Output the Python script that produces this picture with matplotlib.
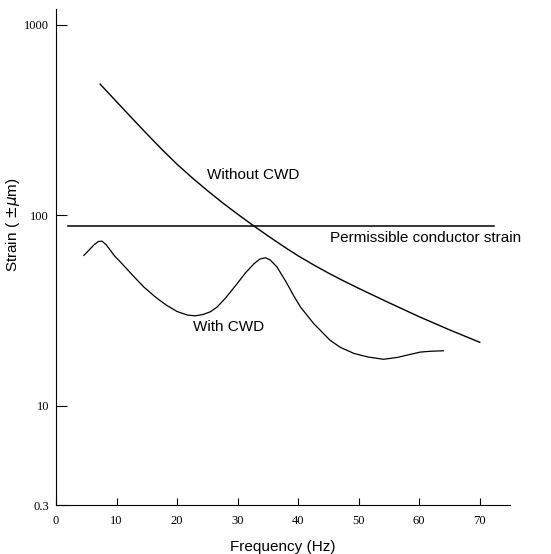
import numpy as np
import matplotlib
matplotlib.use("Agg")
import matplotlib.pyplot as plt
from matplotlib.ticker import FixedLocator, FixedFormatter, NullLocator

# strain without conductor wind damper
freq_without = [7.3, 10, 12.5, 15, 17.5, 20, 22.5, 25, 27.5, 30, 32.5, 35,
                37.5, 40, 42.5, 45, 47.5, 50, 55, 60, 65, 70]
strain_without = [488.7, 395.4, 325.1, 267.9, 221.8, 185.4, 157.4, 134.9, 116.4,
                  101.4, 88.7, 78.0, 68.9, 61.2, 55.0, 49.7, 45.2, 41.3, 34.7,
                  29.3, 25.0, 21.5]

# strain with conductor wind damper
freq_with = [4.6, 5.5, 6.3, 7.0, 7.6, 8.3, 9.0, 9.7, 10.9, 12.5, 14.5, 16.5,
             18.3, 20.0, 21.7, 23.0, 24.3, 25.5, 26.6, 28.0, 29.9, 31.3, 32.7,
             33.7, 34.6, 35.4, 36.5, 38.0, 39.3, 40.4, 42.6, 45.3, 47.0, 49.2,
             51.5, 54.1, 56.4, 58.3, 60.2, 62.0, 64.0]
strain_with = [61.5, 65.8, 70.0, 72.8, 73.1, 70.0, 65.3, 61.0, 55.7, 49.0, 42.0,
               37.0, 33.6, 31.2, 29.9, 29.6, 30.1, 31.1, 32.9, 36.7, 43.6, 49.8,
               55.6, 58.9, 59.8, 58.2, 53.5, 44.7, 37.6, 32.9, 26.9, 22.0, 20.2,
               18.8, 18.0, 17.5, 17.9, 18.5, 19.1, 19.3, 19.4]

# permissible strain line
perm_freq = [2, 72.3]
perm_strain = 88

yticks = [3, 10, 100, 1000]
ytick_labels = ["0.3", "10", "100", "1000"]
xticks = [0, 10, 20, 30, 40, 50, 60, 70]

fig = plt.figure(figsize=(5.51, 5.54), dpi=100)
ax = fig.add_axes([0.1016, 0.0884, 0.824, 0.8954])

ax.plot(freq_without, strain_without, color="black", lw=1.0)
ax.plot(freq_with, strain_with, color="black", lw=0.9)
ax.plot(perm_freq, [perm_strain, perm_strain], color="black", lw=1.1)

ax.set_yscale("log")
ax.set_xlim(0, 75)
ax.set_ylim(3, 1214)

ax.yaxis.set_major_locator(FixedLocator(yticks))
ax.yaxis.set_major_formatter(FixedFormatter(ytick_labels))
ax.yaxis.set_minor_locator(NullLocator())
ax.set_xticks(xticks)

for sp in ["top", "right"]:
    ax.spines[sp].set_visible(False)
for sp in ["left", "bottom"]:
    ax.spines[sp].set_linewidth(0.8)

ax.tick_params(axis="y", direction="in", length=8, width=0.8, pad=5)
ax.tick_params(axis="x", direction="in", length=5, width=0.8, pad=7)
for lab in ax.get_xticklabels() + ax.get_yticklabels():
    lab.set_family("Liberation Serif")
    lab.set_fontsize(9)

ax.text(25, 162, "Without CWD", family="Liberation Sans", fontsize=11, va="center")
ax.text(45.3, 75.7, "Permissible conductor strain", family="Liberation Sans",
        fontsize=11, va="center")
ax.text(22.7, 25.8, "With CWD", family="Liberation Sans", fontsize=11,
        va="center", ha="left")

ax.set_xlabel("Frequency (Hz)", family="Liberation Sans", fontsize=11)
ax.set_ylabel(r"Strain ( $\pm\mu$m)", family="Liberation Sans", fontsize=11)
ax.yaxis.set_label_coords(-0.075, 0.565)
ax.xaxis.set_label_coords(0.5, -0.07)

fig.savefig("out.png", dpi=100)
